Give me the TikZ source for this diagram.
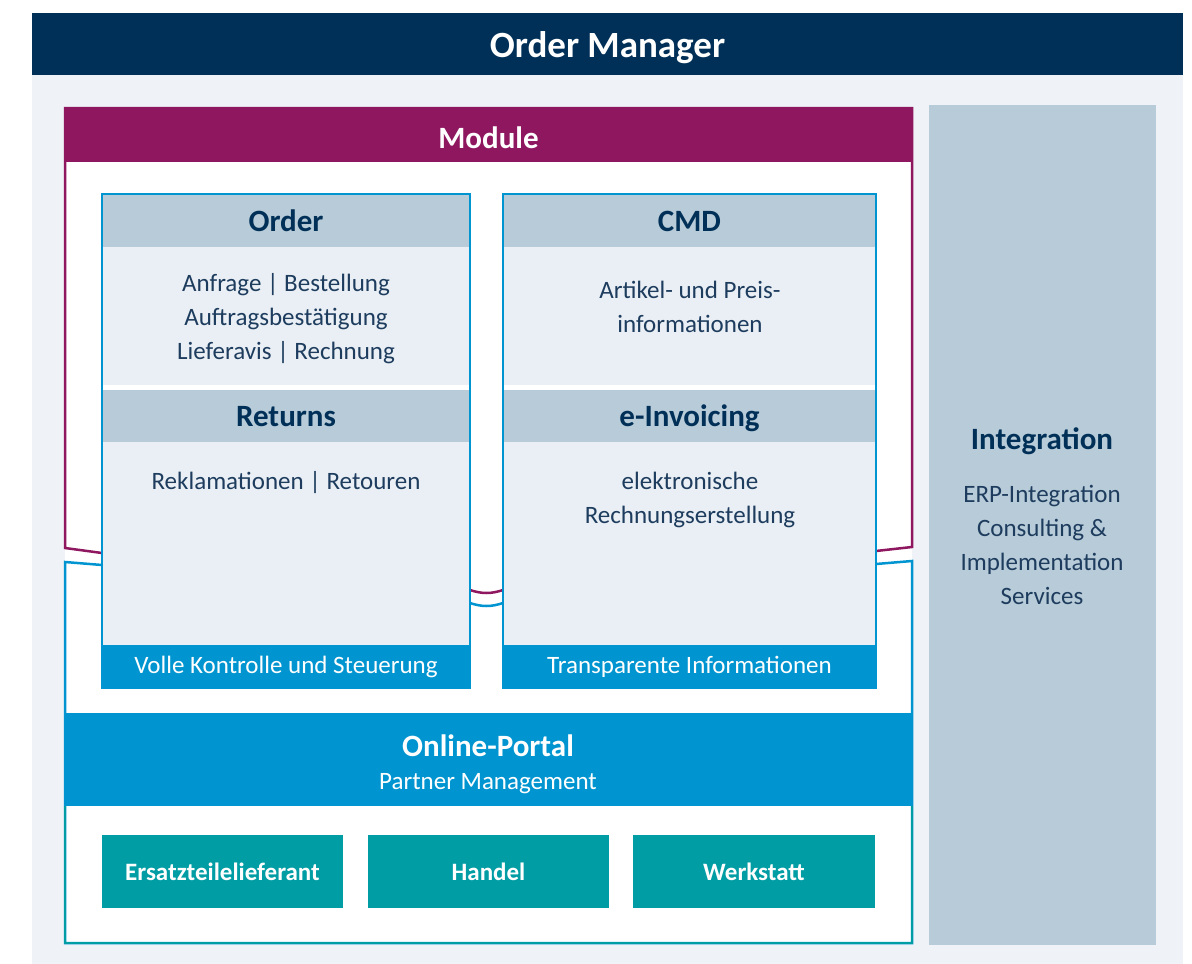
\documentclass[tikz,border=0pt]{standalone}
\usepackage{fontspec}
\setmainfont{Carlito}
\usetikzlibrary{positioning}
\definecolor{navy}{HTML}{003057}
\definecolor{bglight}{HTML}{EFF3F7}
\definecolor{intgray}{HTML}{B8CBD8}
\definecolor{modpurple}{HTML}{8E1760}
\definecolor{portblue}{HTML}{0095D0}
\definecolor{cellbg}{HTML}{E9EFF4}
\definecolor{partteal}{HTML}{009DA5}
\definecolor{txtblue}{HTML}{1D3C5E}
\begin{document}
\begin{tikzpicture}[x=1pt, y=-1pt, line join=miter,
    panel/.style={anchor=north west, inner sep=0pt, outer sep=0pt},
    headfont/.style={font=\fontsize{31}{34}\selectfont\bfseries},
    bodyfont/.style={font=\fontsize{25}{34}\selectfont},
    bodytxt/.style={bodyfont, text=txtblue, align=center, inner sep=0pt},
    headtxt/.style={headfont, text=navy, inner sep=0pt},
    modbox/.style={panel, fill=cellbg, minimum height=494pt},
    cellhead/.style={panel, fill=intgray, minimum height=52pt, headtxt, text depth=0pt},
    cellfoot/.style={panel, fill=portblue, minimum height=43pt, bodyfont, text=white},
    partner/.style={panel, fill=partteal, minimum height=73pt, text=white, text depth=0pt,
      font=\fontsize{25}{28}\selectfont\bfseries}]
\useasboundingbox (0,0) rectangle (1192,964);
% background and title
\fill[bglight] (32,75) rectangle (1183,964);
\node[panel, fill=navy, minimum width=1151pt, minimum height=62pt] (title) at (32,13) {};
\node[text=white, inner sep=0pt, font=\fontsize{37}{40}\selectfont\bfseries]
  (titletxt) at ([yshift=-4pt]title.center) {Order Manager};
% integration column
\node[panel, fill=intgray, minimum width=227pt, minimum height=840pt] (integ) at (929,105) {};
\node[headtxt] (integhead) at (1042,441) {Integration};
\node[bodytxt] (integtxt) at (1042,545) {ERP-Integration\\Consulting \&\\Implementation\\Services};
% frames
\fill[white] (65,108) rectangle (912,943);
\draw[modpurple, line width=2.5pt] (102,553) -- (65,548) -- (65,108) -- (912,108) -- (912,547)
  -- (876,551) -- (503,590) .. controls (491,594) and (482,594) .. (470,590) -- cycle;
\draw[portblue, line width=2.5pt] (102,565) -- (65,562) -- (65,943) -- (912,943) -- (912,561)
  -- (876,564) -- (503,603) .. controls (491,607) and (482,607) .. (470,603) -- cycle;
\draw[partteal, line width=2.5pt] (65,806) -- (65,943) -- (912,943) -- (912,806);
\node[panel, fill=modpurple, minimum width=847pt, minimum height=54pt] (modhead) at (65,108) {};
\node[headfont, text=white, inner sep=0pt] (modtxt) at ([yshift=-3pt]modhead.center) {Module};
\node[panel, fill=portblue, minimum width=847pt, minimum height=93pt] (portal) at (65,713) {};
\node[headfont, text=white, inner sep=0pt] (portalhead) at (488,746) {Online-Portal};
\node[bodyfont, text=white, inner sep=0pt] (portaltxt) at (488,784) {Partner Management};
% left module box
\node[modbox, minimum width=368pt] (orderbox) at (102,194) {};
\node[cellhead, minimum width=366pt] (orderhead) at (103,195) {Order};
\fill[white] (103,385) rectangle (469,390);
\node[cellhead, minimum width=366pt] (rethead) at (103,390) {Returns};
\node[cellfoot, minimum width=368pt] (leftfoot) at (102,645) {Volle Kontrolle und Steuerung};
\draw[portblue, line width=2pt] (orderbox.north west) rectangle (orderbox.south east);
\node[bodytxt] (ordertxt) at (286,319) {Anfrage | Bestellung\\Auftragsbestätigung\\Lieferavis | Rechnung};
\node[bodytxt] (rettxt) at (286,483) {Reklamationen | Retouren};
% right module box
\node[modbox, minimum width=373pt] (cmdbox) at (503,194) {};
\node[cellhead, minimum width=371pt] (cmdhead) at (504,195) {CMD};
\fill[white] (504,385) rectangle (875,390);
\node[cellhead, minimum width=371pt] (invhead) at (504,390) {e-Invoicing};
\node[cellfoot, minimum width=373pt] (rightfoot) at (503,645) {Transparente Informationen};
\draw[portblue, line width=2pt] (cmdbox.north west) rectangle (cmdbox.south east);
\node[bodytxt] (cmdtxt) at (690,307) {Artikel- und Preis-\\informationen};
\node[bodytxt] (invtxt) at (690,500) {elektronische\\Rechnungserstellung};
% partners
\node[partner, minimum width=241pt] (spare) at (102,835) {Ersatzteilelieferant};
\node[partner, minimum width=241pt] (trade) at (368,835) {Handel};
\node[partner, minimum width=242pt] (shop) at (633,835) {Werkstatt};
\end{tikzpicture}
\end{document}
